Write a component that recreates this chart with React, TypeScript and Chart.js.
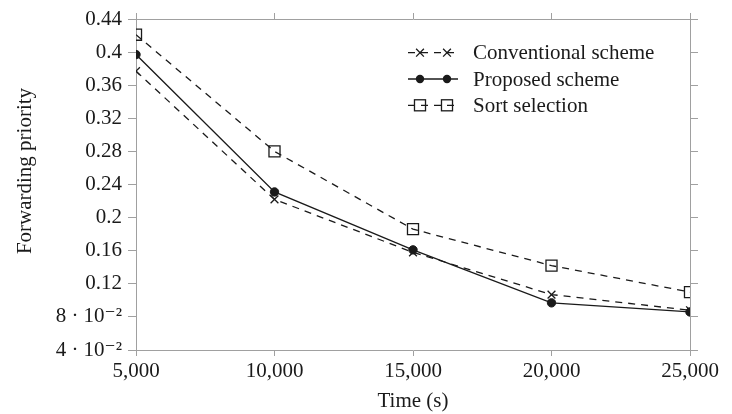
import React, { useEffect, useRef } from "react";
import { Chart, registerables } from "chart.js";

Chart.register(...registerables);

const times = [5000, 10000, 15000, 20000, 25000];
const conventional = [0.377, 0.222, 0.158, 0.107, 0.088];
const proposed = [0.397, 0.231, 0.161, 0.097, 0.086];
const sortSelection = [0.421, 0.28, 0.186, 0.142, 0.11];
const seriesNames = ["Conventional scheme", "Proposed scheme", "Sort selection"];
const yTickValues = [0.04, 0.08, 0.12, 0.16, 0.2, 0.24, 0.28, 0.32, 0.36, 0.4, 0.44];
const xTickValues = [5000, 10000, 15000, 20000, 25000];
const xTitle = "Time (s)";
const yTitle = "Forwarding priority";

const FONT = "'Liberation Serif', 'DejaVu Serif', serif";
const FS = 21;
const INK = "#1a1a1a";
const AXIS = "#a0a0a0";

function fmtY(v: number): string {
  const r = Math.round(v * 100) / 100;
  if (r < 0.1) return `${Math.round(r * 100)} · 10⁻²`;
  return String(r);
}
function fmtX(v: number): string {
  return v.toLocaleString("en-US");
}

const legendPlugin = {
  id: "pgfLegend",
  afterDatasetsDraw(chart: any) {
    const ctx = chart.ctx as CanvasRenderingContext2D;
    const x0 = 408, x1 = 458, m1 = 420, m2 = 447, tx = 473;
    const y0 = 52.7, dy = 26.3;
    chart.data.datasets.forEach((ds: any, i: number) => {
      const y = y0 + i * dy;
      ctx.save();
      ctx.strokeStyle = INK;
      ctx.lineWidth = 1.3;
      ctx.setLineDash(ds.borderDash || []);
      ctx.beginPath();
      ctx.moveTo(x0, y);
      ctx.lineTo(x1, y);
      ctx.stroke();
      ctx.setLineDash([]);
      [m1, m2].forEach((mx) => {
        ctx.beginPath();
        if (ds.pointStyle === "crossRot") {
          const o = Math.SQRT1_2 * ds.pointRadius;
          ctx.moveTo(mx - o, y - o); ctx.lineTo(mx + o, y + o);
          ctx.moveTo(mx + o, y - o); ctx.lineTo(mx - o, y + o);
          ctx.lineWidth = ds.pointBorderWidth;
          ctx.stroke();
        } else if (ds.pointStyle === "circle") {
          ctx.arc(mx, y, ds.pointRadius, 0, Math.PI * 2);
          ctx.fillStyle = INK;
          ctx.fill();
        } else {
          const s = Math.SQRT1_2 * ds.pointRadius;
          ctx.lineWidth = ds.pointBorderWidth;
          ctx.strokeRect(mx - s, y - s, 2 * s, 2 * s);
        }
      });
      ctx.fillStyle = INK;
      ctx.font = `${FS}px ${FONT}`;
      ctx.textAlign = "left";
      ctx.textBaseline = "middle";
      ctx.fillText(seriesNames[i], tx, y + 1);
      ctx.restore();
    });
    // y-axis title
    ctx.save();
    ctx.translate(25, 171);
    ctx.rotate(-Math.PI / 2);
    ctx.fillStyle = INK;
    ctx.font = `${FS}px ${FONT}`;
    ctx.textAlign = "center";
    ctx.textBaseline = "middle";
    ctx.fillText(yTitle, 0, 0);
    ctx.restore();
  },
};

export default function App() {
  const ref = useRef<HTMLCanvasElement | null>(null);
  useEffect(() => {
    if (!ref.current) return;
    const dash = [7, 6];
    const chart = new Chart(ref.current, {
      type: "line",
      data: {
        datasets: [
          {
            label: seriesNames[0],
            data: times.map((t, i) => ({ x: t, y: conventional[i] })),
            borderColor: INK,
            borderWidth: 1.3,
            borderDash: dash,
            pointStyle: "crossRot",
            pointRadius: 5.5,
            pointBorderWidth: 1.3,
            pointBorderColor: INK,
            pointBackgroundColor: "transparent",
            fill: false,
            tension: 0,
          },
          {
            label: seriesNames[1],
            data: times.map((t, i) => ({ x: t, y: proposed[i] })),
            borderColor: INK,
            borderWidth: 1.3,
            pointStyle: "circle",
            pointRadius: 4.2,
            pointBorderWidth: 1,
            pointBorderColor: INK,
            pointBackgroundColor: INK,
            fill: false,
            tension: 0,
          },
          {
            label: seriesNames[2],
            data: times.map((t, i) => ({ x: t, y: sortSelection[i] })),
            borderColor: INK,
            borderWidth: 1.3,
            borderDash: dash,
            pointStyle: "rect",
            pointRadius: 7.8,
            pointBorderWidth: 1.3,
            pointBorderColor: INK,
            pointBackgroundColor: "transparent",
            fill: false,
            tension: 0,
          },
        ],
      },
      options: {
        responsive: false,
        animation: false,
        layout: { padding: 0 },
        plugins: { legend: { display: false }, tooltip: { enabled: false } },
        scales: {
          x: {
            type: "linear",
            position: "bottom",
            min: 5000,
            max: 25000,
            afterBuildTicks: (s: any) => { s.ticks = xTickValues.map((v) => ({ value: v })); },
            afterFit: (s: any) => { s.height = 64; },
            ticks: {
              callback: (v: any) => fmtX(Number(v)),
              font: { family: FONT, size: FS },
              color: INK,
              padding: 3,
              maxRotation: 0,
            },
            grid: { drawOnChartArea: false, drawTicks: true, tickLength: 6, color: AXIS, lineWidth: 1 },
            border: { display: true, color: AXIS, width: 1 },
            title: { display: true, text: xTitle, font: { family: FONT, size: FS }, color: INK, padding: { top: 0, bottom: 0 } },
          },
          x2: {
            type: "linear",
            position: "top",
            min: 5000,
            max: 25000,
            afterBuildTicks: (s: any) => { s.ticks = xTickValues.map((v) => ({ value: v })); },
            afterFit: (s: any) => { s.height = 19; },
            ticks: { display: false },
            grid: { drawOnChartArea: false, drawTicks: true, tickLength: 6, color: AXIS, lineWidth: 1 },
            border: { display: true, color: AXIS, width: 1 },
          },
          y: {
            type: "linear",
            position: "left",
            min: 0.04,
            max: 0.44,
            afterBuildTicks: (s: any) => { s.ticks = yTickValues.map((v) => ({ value: v })); },
            afterFit: (s: any) => { s.width = 136; },
            ticks: {
              callback: (v: any) => fmtY(Number(v)),
              font: { family: FONT, size: FS },
              color: INK,
              padding: 6,
            },
            grid: { drawOnChartArea: false, drawTicks: true, tickLength: 8, color: AXIS, lineWidth: 1 },
            border: { display: true, color: AXIS, width: 1 },
          },
          y2: {
            type: "linear",
            position: "right",
            min: 0.04,
            max: 0.44,
            afterBuildTicks: (s: any) => { s.ticks = yTickValues.map((v) => ({ value: v })); },
            afterFit: (s: any) => { s.width = 42; },
            ticks: { display: false },
            grid: { drawOnChartArea: false, drawTicks: true, tickLength: 8, color: AXIS, lineWidth: 1 },
            border: { display: true, color: AXIS, width: 1 },
          },
        },
      },
      plugins: [legendPlugin],
    } as any);
    return () => chart.destroy();
  }, []);
  return (
    <div style={{ position: "fixed", left: 0, top: 0, width: 732, height: 414, background: "#fff" }}>
      <canvas ref={ref} width={732} height={414} />
    </div>
  );
}
